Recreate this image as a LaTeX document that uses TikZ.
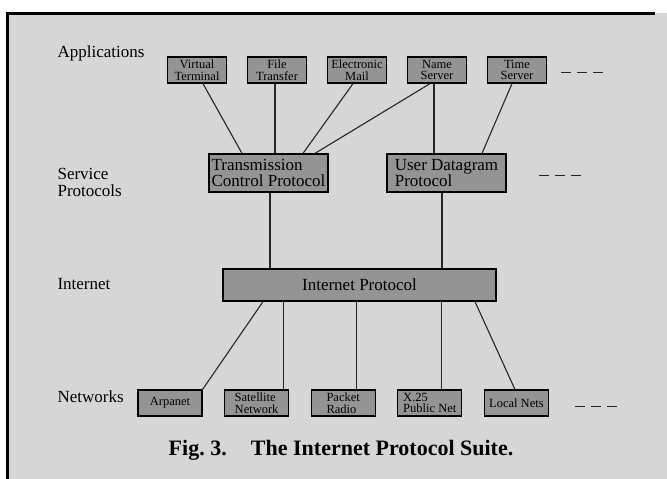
\documentclass[tikz,border=0pt]{standalone}
\usepackage{fontspec}
\setmainfont{Liberation Serif}

\begin{document}
\begin{tikzpicture}[x=1pt,y=-1pt,draw=black!85,line width=1.1pt]
    \tikzstyle{box}=[draw=black,line width=1.3pt,fill=black!42,inner sep=1pt]
    \tikzstyle{app box}=[box,minimum width=59pt,minimum height=26pt,align=center,font=\fontsize{12.5}{11.5}\selectfont]
    \tikzstyle{service box}=[box,minimum width=119pt,minimum height=38pt,align=left,font=\fontsize{17}{16}\selectfont]
    \tikzstyle{ip box}=[box,minimum width=273pt,minimum height=32pt,font=\fontsize{17}{17}\selectfont]
    \tikzstyle{net box}=[box,minimum width=64pt,minimum height=26pt,align=left,font=\fontsize{12.5}{11.5}\selectfont]
    \tikzstyle{layer}=[font=\fontsize{17}{17}\selectfont,align=left,inner sep=0pt]
    \tikzstyle{more}=[dash pattern=on 10pt off 6pt,line width=1pt]

    % Page and its frame
    \useasboundingbox (0,0) rectangle (667,479);
    \fill[black!16] (7,13) rectangle (667,479);
    \draw[black,line width=3pt] (7,479) -- (7,13) -- (655,13);

    % Draw the application boxes
    \foreach \name / \x / \txt in {1/197/{Virtual\\Terminal},2/277/{File\\Transfer},
        3/357/{Electronic\\Mail},4/437/{Name\\Server},5/517/{Time\\Server}}
        \node[app box] (app-\name) at (\x,70) {\txt};

    % Draw the service protocols
    \node[service box] (TCP) at (268.5,173) {Transmission\\Control Protocol};
    \node[service box] (UDP) at (446.5,173) {User Datagram\\Protocol};

    % Internet layer
    \node[ip box] (IP) at (359.5,285) {Internet Protocol};

    % Draw the network boxes
    \foreach \name / \x / \txt in {1/170/{Arpanet},2/256.6/{Satellite\\Network},
        3/343.2/{Packet\\Radio},4/429.8/{X.25\\Public Net},5/516.4/{Local Nets}}
        \node[net box] (net-\name) at (\x,403) {\txt};

    % Connect the applications with the service protocols
    \foreach \a / \sa / \b / \sb in {1/6/TCP/-26.5,3/-4/TCP/34.5,4/-7/TCP/46.5,5/-5/UDP/35.5}
        \draw ([xshift=\sa pt]app-\a.south) -- ([xshift=\sb pt]\b.north);
    \foreach \a / \sa / \b in {2/-2/TCP,4/-3/UDP}
        \draw ([xshift=\sa pt]app-\a.south) -- ([xshift=\sa pt]app-\a.south |- \b.north);

    % Service protocols down to IP
    \foreach \b / \sb in {TCP/1.5,UDP/-4.5}
        \draw ([xshift=\sb pt]\b.south) -- ([xshift=\sb pt]\b.south |- IP.north);

    % IP down to every network
    \draw ([xshift=-96.5pt]IP.south) -- (net-1.north east);
    \foreach \n / \s in {2/27,3/13,4/12}
        \draw ([xshift=\s pt]net-\n.north |- IP.south) -- ([xshift=\s pt]net-\n.north);
    \draw ([xshift=115.5pt]IP.south) -- ([xshift=-1.5pt]net-5.north);

    % and so on
    \draw[more] ([xshift=14pt,yshift=-2pt]app-5.east) -- ++(42,0);
    \draw[more] ([xshift=32pt,yshift=-2pt]UDP.east) -- ++(42,0);
    \draw[more] ([xshift=26pt,yshift=-3pt]net-5.east) -- ++(42,0);

    % Annotate the layers
    \node[layer,anchor=base west] (l-app) at (57,57) {Applications};
    \node[layer,anchor=north west] (l-serv) at (57,168) {Service\\Protocols};
    \node[layer,anchor=base west] (l-ip) at (57,289) {Internet};
    \node[layer,anchor=base west] (l-net) at (57,402) {Networks};

    % Caption
    \node[anchor=base,inner sep=0pt,font=\fontsize{22}{26}\selectfont\bfseries] (caption)
        at (341,455) {Fig.~3.\hspace{1.1em}The Internet Protocol Suite.};
\end{tikzpicture}
\end{document}
